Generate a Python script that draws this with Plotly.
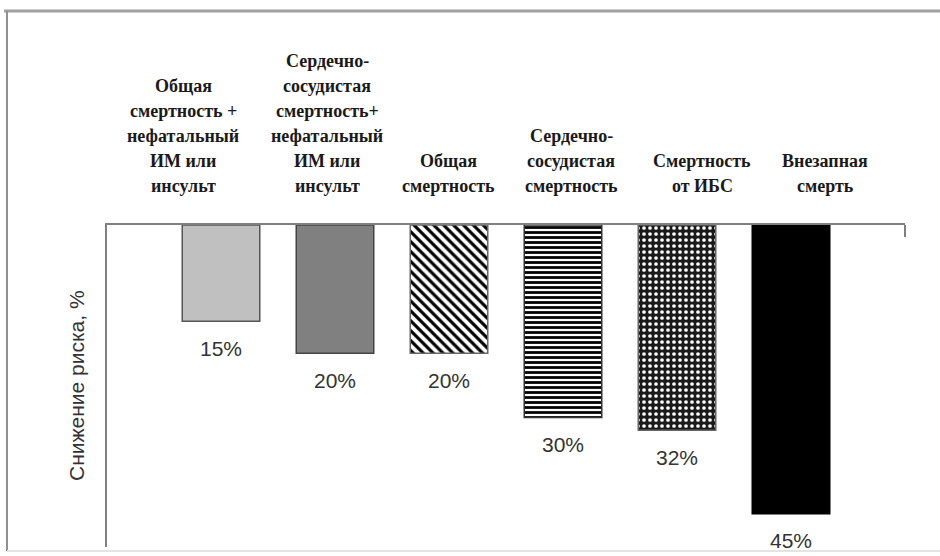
import plotly.graph_objects as go

# ---- data ----
categories = [
    ["Общая", "смертность +", "нефатальный", "ИМ или", "инсульт"],
    ["Сердечно-", "сосудистая", "смертность+", "нефатальный", "ИМ или", "инсульт"],
    ["Общая", "смертность"],
    ["Сердечно-", "сосудистая", "смертность"],
    ["Смертность", "от ИБС"],
    ["Внезапная", "смерть"],
]
risk_reduction = [15, 20, 20, 30, 32, 45]
y_title = "Снижение риска, %"

# ---- styling ----
positions = list(range(1, len(risk_reduction) + 1))
bar_colors = ["#c0c0c0", "#808080", "#ffffff", "#ffffff", "#1a1a1a", "#000000"]
line_colors = ["#555555", "#444444", "#666666", "#333333", "#666666", "#000000"]
pat_shapes = ["", "", "\\", "-", ".", ""]
pat_fg = ["#000000", "#000000", "#000000", "#000000", "#ffffff", "#000000"]
pat_size = [8, 8, 7, 5, 6, 8]
pat_solid = [0.3, 0.3, 0.45, 0.55, 0.3, 0.3]
label_xshift = [-38, -8, -1, 8, 25, 34]

SERIF = "Liberation Serif, Times New Roman, DejaVu Serif, serif"
SANS = "Liberation Sans, Arial, sans-serif"

W, H = 940, 556
L, R, T, B = 107, 905, 225, 547


def px(xp):
    return (xp - L) / (R - L)


def py(yp):
    return (B - yp) / (B - T)


fig = go.Figure()
for i, v in enumerate(risk_reduction):
    marker = dict(color=bar_colors[i], line=dict(color=line_colors[i], width=1.5))
    if pat_shapes[i]:
        marker["pattern"] = dict(shape=pat_shapes[i], fgcolor=pat_fg[i],
                                 bgcolor=bar_colors[i], size=pat_size[i],
                                 solidity=pat_solid[i], fgopacity=1)
    fig.add_trace(go.Bar(
        x=[positions[i]], y=[-v], width=0.68, marker=marker,
        hoverinfo="skip",
    ))

annotations = []
for i, lines in enumerate(categories):
    n = len(lines)
    for k, line in enumerate(lines):
        center = 186 - (n - 1 - k) * 25
        annotations.append(dict(
            x=positions[i], y=0, xref="x", yref="y",
            text=f"<b>{line}</b>", showarrow=False,
            xanchor="center", yanchor="middle",
            xshift=label_xshift[i], yshift=T - center,
            font=dict(family=SERIF, size=18, color="#1a1a1a"),
        ))

for i, v in enumerate(risk_reduction):
    annotations.append(dict(
        x=positions[i], y=-v, xref="x", yref="y",
        text=f"{v}%", showarrow=False,
        xanchor="center", yanchor="middle", yshift=-27,
        font=dict(family=SANS, size=21, color="#333333"),
    ))

annotations.append(dict(
    x=px(76), y=0.5, xref="paper", yref="paper",
    text=y_title, showarrow=False, textangle=-90,
    xanchor="center", yanchor="middle",
    font=dict(family=SANS, size=21, color="#333333"),
))

shapes = [
    dict(type="line", xref="paper", yref="paper",
         x0=px(4), x1=px(940), y0=py(11), y1=py(11),
         line=dict(color="#a0a0a0", width=3)),
    dict(type="line", xref="paper", yref="paper",
         x0=px(7), x1=px(7), y0=py(11), y1=py(551),
         line=dict(color="#909090", width=2)),
    dict(type="line", xref="paper", yref="paper",
         x0=px(7), x1=px(940), y0=py(551), y1=py(551),
         line=dict(color="#e4e4e4", width=2)),
    dict(type="line", xref="paper", yref="paper",
         x0=1, x1=1, y0=1, y1=py(237),
         line=dict(color="#808080", width=2)),
]

fig.update_layout(
    width=W, height=H,
    margin=dict(l=L, r=W - R, t=T, b=H - B, pad=0),
    paper_bgcolor="white", plot_bgcolor="white",
    showlegend=False,
    barmode="overlay",
    annotations=annotations,
    shapes=shapes,
    xaxis=dict(
        range=[0, 7], side="top", showline=True, linecolor="#808080",
        linewidth=2, showgrid=False, zeroline=False,
        showticklabels=False, ticks="", fixedrange=True,
    ),
    yaxis=dict(
        range=[-50.2, 0], showline=True, linecolor="#808080", linewidth=2,
        showgrid=False, zeroline=False, showticklabels=False, ticks="",
        fixedrange=True,
    ),
)

fig.write_html("out.html", config={"displayModeBar": False},
               post_script="document.body.style.margin='0';")
